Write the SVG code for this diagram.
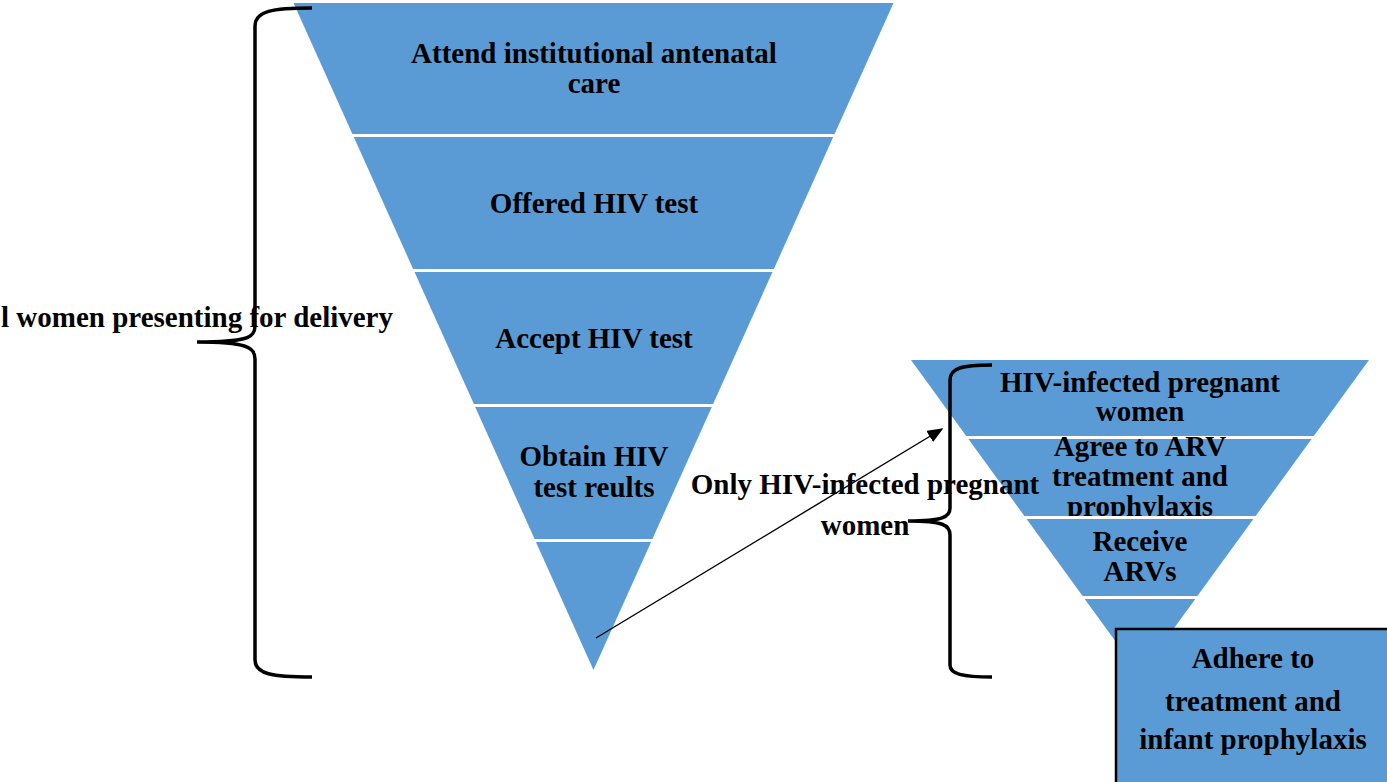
<svg xmlns="http://www.w3.org/2000/svg" width="1387" height="782" viewBox="0 0 1387 782">
<style>
.band{fill:#5B9BD5;}
.t{font-family:"Liberation Serif","Times New Roman",serif;font-weight:bold;font-size:29px;fill:#000;text-anchor:middle;}
.brace{fill:none;stroke:#000;stroke-width:3.5;}
.conn{fill:none;stroke:#000;stroke-width:1.4;}
</style>
<defs>
<marker id="ah" viewBox="0 0 10 10" refX="9" refY="5" markerWidth="16" markerHeight="13" markerUnits="userSpaceOnUse" orient="auto" preserveAspectRatio="none">
<path d="M0,0 L10,5 L0,10 z" fill="#000"/>
</marker>
<clipPath id="clipAgree"><polygon points="968.4,439 1311.6,439 1255.6,516 1024.4,516"/></clipPath>
</defs>
<rect width="1387" height="782" fill="#fff"/>

<g id="band-attend">
<polygon class="band" points="293.5,3 893.5,3 834.6,134 352.4,134"/>
<text class="t" x="594" y="63">Attend institutional antenatal</text>
<text class="t" x="594" y="93">care</text>
</g>
<g id="band-offered">
<polygon class="band" points="353.8,137 833.2,137 773.9,269 413.1,269"/>
<text class="t" x="594" y="213">Offered HIV test</text>
</g>
<g id="band-accept">
<polygon class="band" points="414.5,272 772.5,272 713.1,404 473.9,404"/>
<text class="t" x="594" y="348">Accept HIV test</text>
</g>
<g id="band-obtain">
<polygon class="band" points="475.2,407 711.8,407 652.4,539 534.6,539"/>
<text class="t" x="594" y="466">Obtain HIV</text>
<text class="t" x="594" y="497">test reults</text>
</g>
<g id="band-bottom">
<polygon class="band" points="535.9,542 651.1,542 593.5,670"/>
</g>

<g id="sband-hiv">
<polygon class="band" points="911,360 1369,360 1313.8,436 966.2,436"/>
<text class="t" x="1140" y="392">HIV-infected pregnant</text>
<text class="t" x="1140" y="421">women</text>
</g>
<g id="sband-agree">
<polygon class="band" points="968.4,439 1311.6,439 1255.6,516 1024.4,516"/>
<text class="t" x="1140" y="456">Agree to ARV</text>
<text class="t" x="1140" y="486">treatment and</text>
<text class="t" x="1140" y="516" clip-path="url(#clipAgree)">prophylaxis</text>
</g>
<g id="sband-receive">
<polygon class="band" points="1026.6,519 1253.4,519 1197.4,596 1082.6,596"/>
<text class="t" x="1140" y="551">Receive</text>
<text class="t" x="1140" y="581">ARVs</text>
</g>
<g id="sband-bottom">
<polygon class="band" points="1084.7,599 1195.3,599 1140,675"/>
</g>

<g id="box-adhere">
<rect x="1116" y="629" width="290" height="170" fill="#5B9BD5" stroke="#000" stroke-width="2.5"/>
<text class="t" x="1253" y="668">Adhere to</text>
<text class="t" x="1253" y="711">treatment and</text>
<text class="t" x="1253" y="749">infant prophylaxis</text>
</g>

<g id="label-all">
<text class="t" x="1" y="327" style="text-anchor:start">l women presenting for delivery</text>
</g>
<g id="label-only">
<text class="t" x="865" y="494">Only HIV-infected pregnant</text>
<text class="t" x="865" y="535">women</text>
</g>

<g id="connectors">
<path class="brace" d="M312,8 C272,8 255,11 255,26 L255,326 C255,338 246,342 197,342 C246,342 255,347 255,359 L255,660 C255,674 272,677 312,677"/>
<path class="brace" d="M992,365 C962,365 950,368 950,380 L950,508 C950,517 943,521 908,521 C943,521 950,525 950,535 L950,665 C950,674 962,677 992,677"/>
<line class="conn" x1="596" y1="638" x2="942" y2="429" marker-end="url(#ah)"/>
</g>
</svg>
